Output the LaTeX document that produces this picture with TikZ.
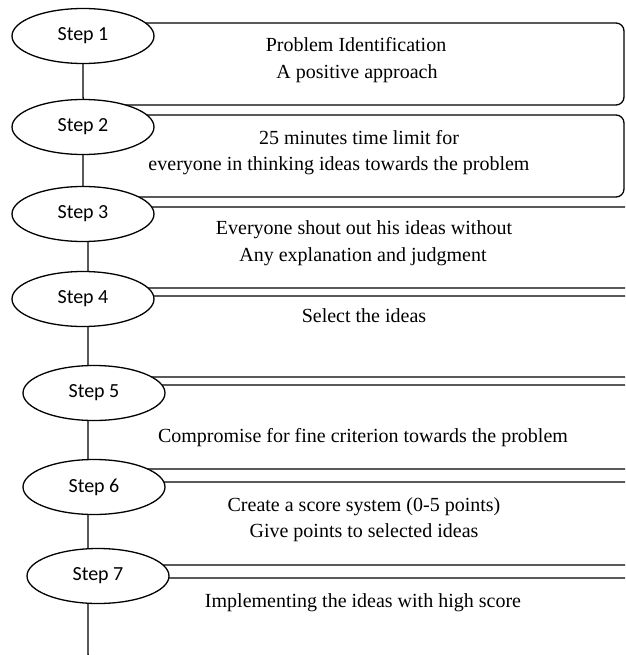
\documentclass[tikz,border=0pt]{standalone}
\usepackage{fontspec}
\setmainfont{Liberation Serif}
\newfontfamily\stepfont{Carlito}
\usetikzlibrary{shapes.geometric}
\begin{document}
\begin{tikzpicture}[x=1pt,y=-1pt,
  box/.style={draw, rounded corners=8pt, line width=1.3pt, inner sep=0pt, outer sep=0pt},
  stepel/.style={ellipse, draw, fill=white, line width=1.3pt, minimum width=142pt, minimum height=55pt, inner sep=0pt, font=\stepfont\fontsize{20}{24}\selectfont},
  txt/.style={font=\fontsize{20}{24}\selectfont, text height=13pt, text depth=4pt, inner sep=0pt}]
\useasboundingbox (0,0) rectangle (625,655);
\clip (0,0) rectangle (625,655);
% boxes
\node[box, minimum width=541pt, minimum height=82pt] (b1) at (353.5,64) {};
\node[box, minimum width=541pt, minimum height=82pt] (b2) at (353.5,156) {};
\node[box, minimum width=562pt, minimum height=81pt] (b3) at (369,247.5) {};
\node[box, minimum width=562pt, minimum height=81pt] (b4) at (369,336.5) {};
\node[box, minimum width=562pt, minimum height=84pt] (b5) at (369,427) {};
\node[box, minimum width=562pt, minimum height=83pt] (b6) at (369,523.5) {};
\node[box, minimum width=562pt, minimum height=84pt] (b7) at (369,620) {};
% step ellipses
\node[stepel] (s1) at (83,36) {Step 1};
\node[stepel] (s2) at (83,127) {Step 2};
\node[stepel] (s3) at (83,214) {Step 3};
\node[stepel] (s4) at (83,299) {Step 4};
\node[stepel] (s5) at (94,393) {Step 5};
\node[stepel] (s6) at (94,487) {Step 6};
\node[stepel] (s7) at (98,576) {Step 7};
% texts
\node[txt] (t1a) at (356,47) {Problem Identification};
\node[txt] (t1b) at (357,74) {A positive approach};
\node[txt] (t2a) at (359,140) {25 minutes time limit for};
\node[txt] (t2b) at (339,166) {everyone in thinking ideas towards the problem};
\node[txt] (t3a) at (364,230) {Everyone shout out his ideas without};
\node[txt] (t3b) at (363,257) {Any explanation and judgment};
\node[txt] (t4) at (364,318) {Select the ideas};
\node[txt] (t5) at (363,438) {Compromise for fine criterion towards the problem};
\node[txt] (t6a) at (364,507) {Create a score system (0-5 points)};
\node[txt] (t6b) at (364,533) {Give points to selected ideas};
\node[txt] (t7) at (363,603) {Implementing the ideas with high score};
\end{tikzpicture}
\end{document}
